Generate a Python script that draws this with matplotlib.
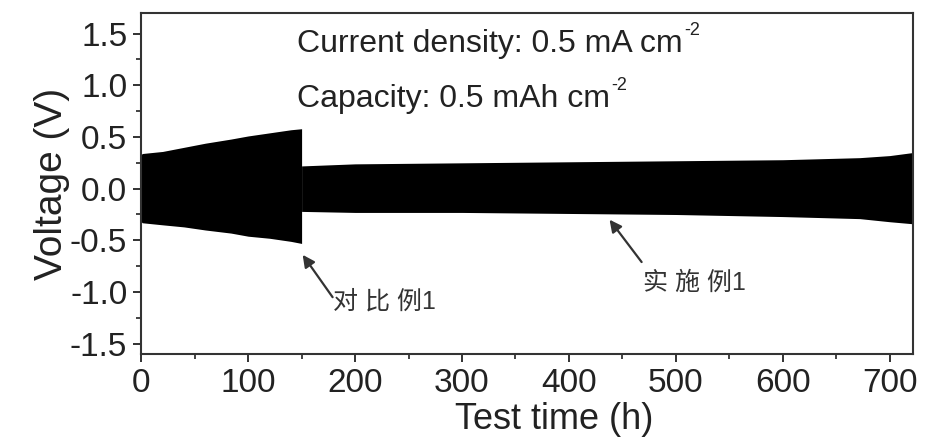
import matplotlib.pyplot as plt
from matplotlib.ticker import MultipleLocator

plt.rcParams['font.family'] = ['Liberation Sans', 'Noto Sans CJK SC', 'DejaVu Sans']

# envelope of the voltage oscillation
ref_time = [0, 1, 20, 40, 60, 84, 100, 120, 140, 150]
ref_upper = [0.33, 0.34, 0.36, 0.40, 0.44, 0.48, 0.51, 0.54, 0.57, 0.58]
ref_lower = [-0.32, -0.33, -0.35, -0.37, -0.40, -0.43, -0.46, -0.48, -0.51, -0.53]

ex_time = [150, 200, 300, 400, 500, 600, 672, 700, 722]
ex_upper = [0.22, 0.24, 0.25, 0.26, 0.27, 0.28, 0.30, 0.32, 0.35]
ex_lower = [-0.22, -0.23, -0.23, -0.24, -0.25, -0.27, -0.29, -0.32, -0.34]

x_ticks = [0, 100, 200, 300, 400, 500, 600, 700]
y_ticks = [-1.5, -1.0, -0.5, 0.0, 0.5, 1.0, 1.5]

dark = '#222222'

fig = plt.figure(figsize=(9.29, 4.47), dpi=100)
ax = fig.add_axes([0.152, 0.208, 0.831, 0.763])

ax.fill_between(ref_time, ref_lower, ref_upper, color='black', lw=0)
ax.fill_between(ex_time, ex_lower, ex_upper, color='black', lw=0)

ax.set_xlim(0, 722)
ax.set_ylim(-1.6, 1.7)
ax.set_xticks(x_ticks)
ax.set_yticks(y_ticks)
ax.set_yticklabels(['%.1f' % v for v in y_ticks])
ax.xaxis.set_minor_locator(MultipleLocator(50))
ax.yaxis.set_minor_locator(MultipleLocator(0.25))
ax.tick_params(which='major', direction='out', length=6, width=1.3, labelsize=24,
               colors=dark, pad=4)
ax.tick_params(which='minor', direction='out', length=3.5, width=1.2, colors=dark)
for s in ax.spines.values():
    s.set_linewidth(1.5)
    s.set_color('#333333')

ax.set_xlabel('Test time (h)', fontsize=26, color=dark)
ax.xaxis.set_label_coords(0.535, -0.142)
ax.set_ylabel('Voltage (V)', fontsize=28, labelpad=0, color=dark)

# info text, superscript placed after the base text
fig.canvas.draw()
r = fig.canvas.get_renderer()
for y, s in [(1.40, 'Current density: 0.5 mA cm'), (0.87, 'Capacity: 0.5 mAh cm')]:
    t = ax.text(146, y, s, fontsize=23, va='center', color=dark)
    bb = t.get_window_extent(r)
    fig.text(bb.x1 + 1, bb.y1 - 2, '-2', fontsize=13, va='center', color=dark,
             transform=None)

arrow = dict(arrowstyle='-|>', color='#333333', lw=1.6, mutation_scale=18,
             shrinkA=0, shrinkB=0)
ax.annotate('', xy=(151, -0.64), xytext=(179, -1.05), arrowprops=arrow)
ax.annotate('', xy=(438, -0.30), xytext=(468, -0.71), arrowprops=arrow)
ax.text(179, -1.09, '对 比 例1', fontsize=18, va='center', color='#333333')
ax.text(469, -0.91, '实 施 例1', fontsize=18, va='center', color='#333333')

fig.savefig('out.png', dpi=100)
